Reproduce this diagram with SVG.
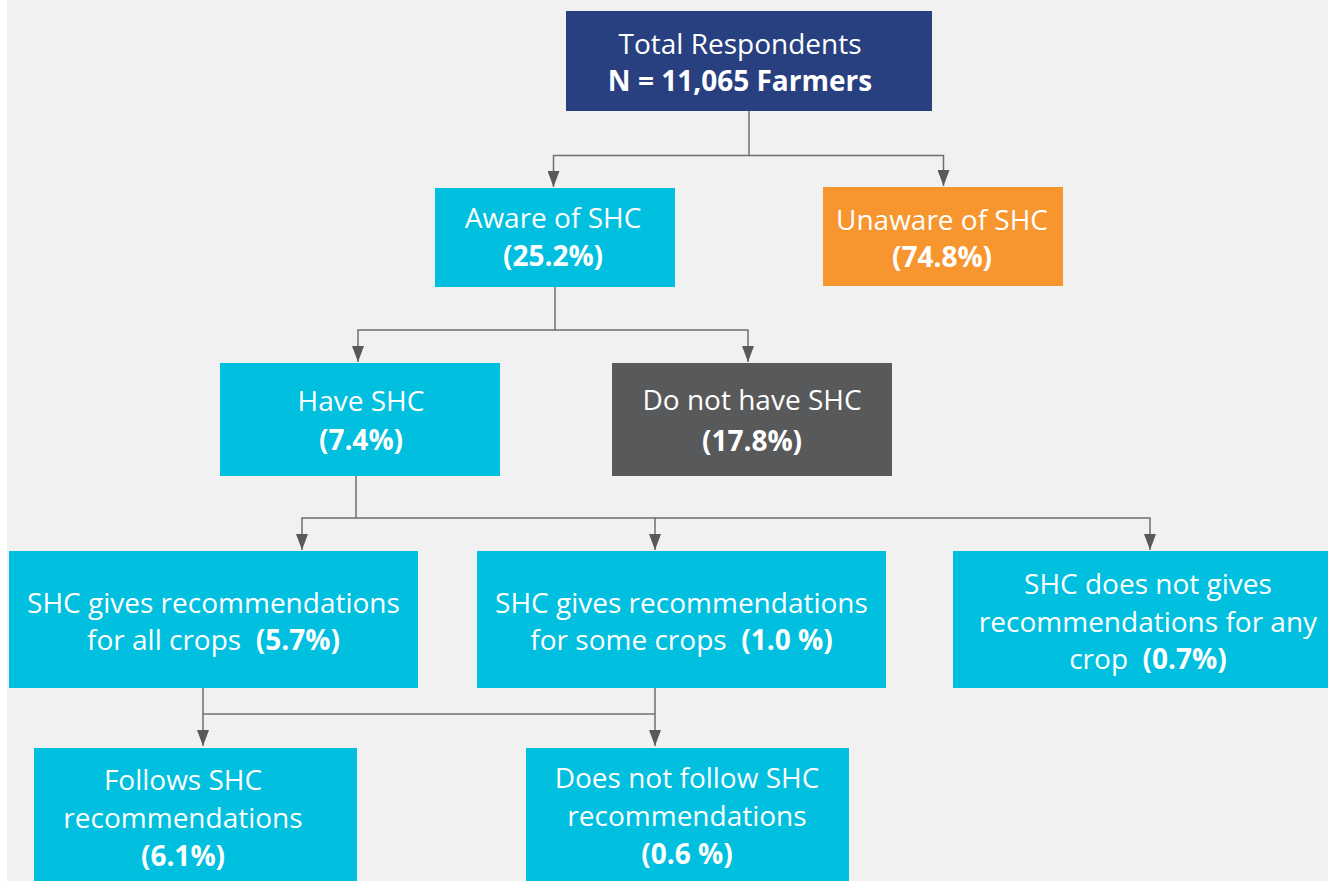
<svg xmlns="http://www.w3.org/2000/svg" width="1328" height="881" viewBox="0 0 1328 881">
<style>
text{font-family:"Open Sans","Liberation Sans",sans-serif;font-size:28px;fill:#ffffff;text-anchor:middle}
.b{font-weight:700}
.conn{fill:none;stroke:#6f6f6f;stroke-width:1.5}
.navy{fill:#283f80}.cyan{fill:#00bfdf}.orange{fill:#f7952f}.gray{fill:#58595b}
</style>
<defs>
<marker id="ah" markerUnits="userSpaceOnUse" markerWidth="16" markerHeight="12" viewBox="0 0 16 12" refX="16" refY="6" orient="auto">
<path d="M0,0 L16,6 L0,12 Z" fill="#58595b"/>
</marker>
</defs>
<rect x="0" y="0" width="1328" height="881" fill="#f1f1f1"/>
<rect x="0" y="0" width="7" height="881" fill="#ffffff"/>
<g id="connectors">
<path class="conn" d="M749,111 V155.5 H553.5 V187" marker-end="url(#ah)"/>
<path class="conn" d="M749,155.5 H943.5 V186" marker-end="url(#ah)"/>
<path class="conn" d="M555,287 V330 H358 V362" marker-end="url(#ah)"/>
<path class="conn" d="M555,330 H748 V362" marker-end="url(#ah)"/>
<path class="conn" d="M356,476 V518 H302 V550" marker-end="url(#ah)"/>
<path class="conn" d="M356,518 H655 V550" marker-end="url(#ah)"/>
<path class="conn" d="M655,518 H1150 V550" marker-end="url(#ah)"/>
<path class="conn" d="M203,688 V746" marker-end="url(#ah)"/>
<path class="conn" d="M655,688 V746" marker-end="url(#ah)"/>
<path class="conn" d="M203,714 H655"/>
</g>
<g id="total">
<rect class="navy" x="566" y="11" width="366" height="100"/>
<text x="740" y="54">Total Respondents</text>
<text x="740" y="91" class="b">N = 11,065 Farmers</text>
</g>
<g id="aware">
<rect class="cyan" x="435" y="188" width="240" height="99"/>
<text x="553" y="228">Aware of SHC</text>
<text x="553" y="266" class="b">(25.2%)</text>
</g>
<g id="unaware">
<rect class="orange" x="823" y="187" width="240" height="99"/>
<text x="942" y="230">Unaware of SHC</text>
<text x="942" y="267" class="b">(74.8%)</text>
</g>
<g id="have">
<rect class="cyan" x="220" y="363" width="280" height="113"/>
<text x="361" y="411">Have SHC</text>
<text x="361" y="450" class="b">(7.4%)</text>
</g>
<g id="donothave">
<rect class="gray" x="612" y="363" width="280" height="113"/>
<text x="752" y="410">Do not have SHC</text>
<text x="752" y="451" class="b">(17.8%)</text>
</g>
<g id="allcrops">
<rect class="cyan" x="9" y="551" width="409" height="137"/>
<text x="213.5" y="613">SHC gives recommendations</text>
<text x="213.5" y="650" xml:space="preserve">for all crops  <tspan class="b">(5.7%)</tspan></text>
</g>
<g id="somecrops">
<rect class="cyan" x="477" y="551" width="409" height="137"/>
<text x="681.5" y="613">SHC gives recommendations</text>
<text x="681.5" y="650" xml:space="preserve">for some crops  <tspan class="b">(1.0 %)</tspan></text>
</g>
<g id="nocrop">
<rect class="cyan" x="953" y="551" width="380" height="137"/>
<text x="1148" y="594">SHC does not gives</text>
<text x="1148" y="632">recommendations for any</text>
<text x="1148" y="669" xml:space="preserve">crop  <tspan class="b">(0.7%)</tspan></text>
</g>
<g id="follows">
<rect class="cyan" x="34" y="748" width="323" height="140"/>
<text x="183" y="790">Follows SHC</text>
<text x="183" y="828">recommendations</text>
<text x="183" y="866" class="b">(6.1%)</text>
</g>
<g id="notfollow">
<rect class="cyan" x="526" y="748" width="323" height="140"/>
<text x="687" y="788">Does not follow SHC</text>
<text x="687" y="826">recommendations</text>
<text x="687" y="864" class="b">(0.6 %)</text>
</g>
</svg>
